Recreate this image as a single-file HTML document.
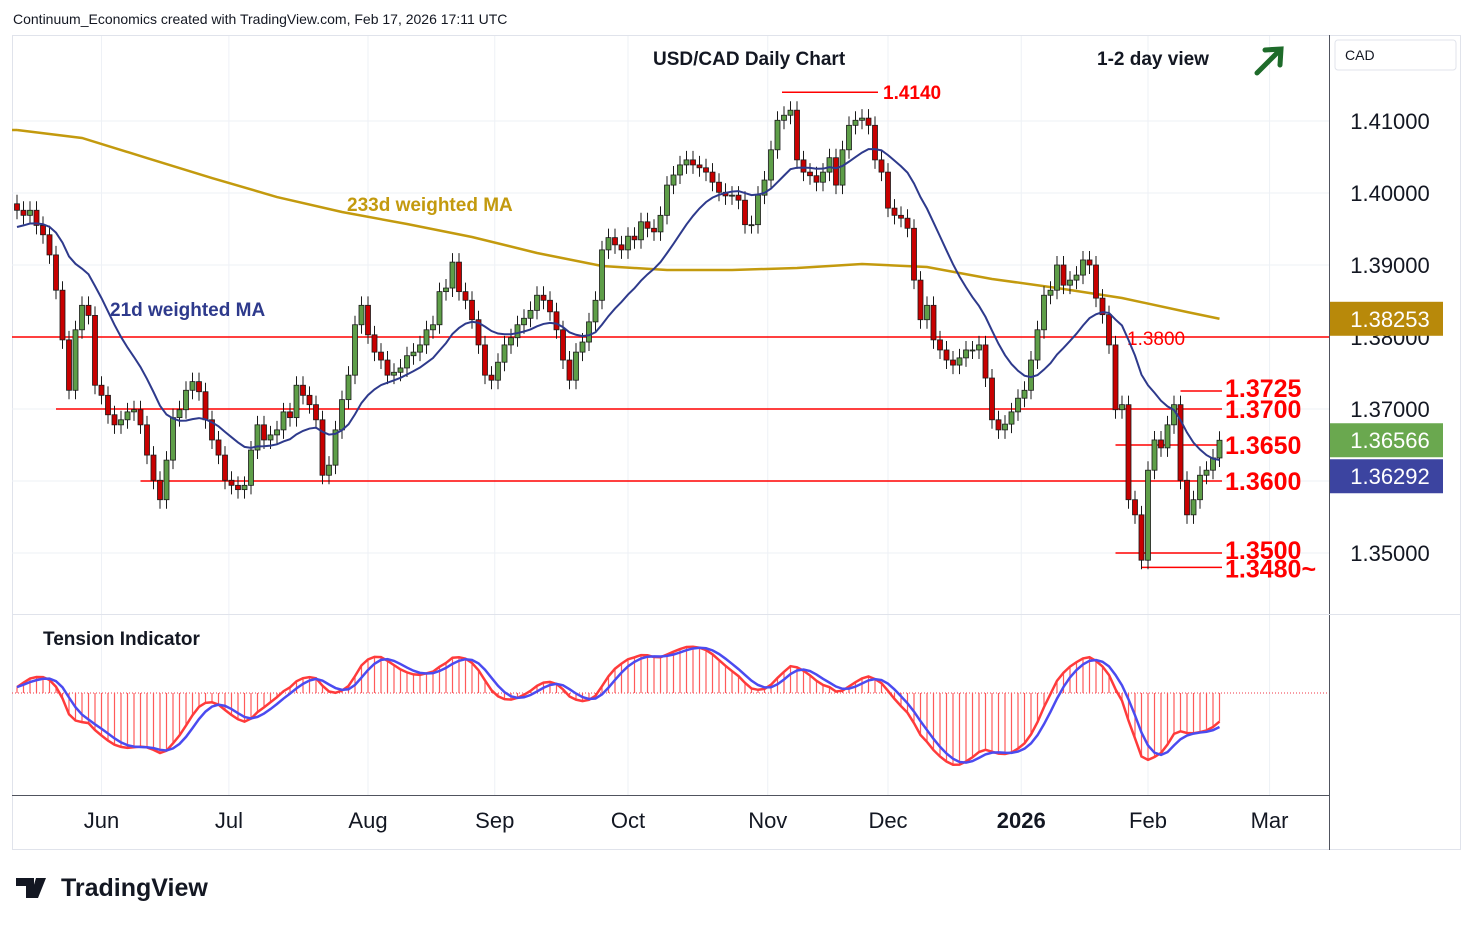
<!DOCTYPE html>
<html><head><meta charset="utf-8"><style>
body{margin:0;background:#fff;width:1474px;height:925px;overflow:hidden;font-family:"Liberation Sans",sans-serif}
svg text{font-family:"Liberation Sans",sans-serif}
</style></head><body>
<svg id="chart" width="1474" height="925" xmlns="http://www.w3.org/2000/svg">
<text x="13" y="24" font-size="14" fill="#131722">Continuum_Economics created with TradingView.com, Feb 17, 2026 17:11 UTC</text>
<rect x="12.5" y="35.5" width="1448" height="814" fill="none" stroke="#e0e3eb"/>
<g id="grid"></g>
<g id="ma233"></g>
<g id="hlines"></g>
<g id="candles"></g>
<g id="ma21"></g>
<g id="tension"></g>
<line x1="1329.5" y1="35" x2="1329.5" y2="850" stroke="#50535e"/>
<line x1="12" y1="614.5" x2="1461" y2="614.5" stroke="#e0e3eb"/>
<line x1="12" y1="795.5" x2="1329" y2="795.5" stroke="#50535e"/>
<g id="yaxis"></g>
<g id="xaxis"></g>
<rect x="1335" y="40" width="121" height="30" rx="3" fill="#fff" stroke="#e0e3eb"/>
<text x="1345" y="60" font-size="14" fill="#131722">CAD</text>
<text x="653" y="65" font-size="19" font-weight="bold" fill="#131722">USD/CAD Daily Chart</text>
<text x="1097" y="65" font-size="19" font-weight="bold" fill="#131722">1-2 day view</text>
<g stroke="#1e6b2a" stroke-width="5" fill="none" stroke-linecap="round"><line x1="1257" y1="73" x2="1280" y2="50"/><polyline points="1265,50 1281,49 1280,65"/></g>
<text x="347" y="211" font-size="19" font-weight="bold" fill="#c39a0e">233d weighted MA</text>
<text x="110" y="316" font-size="19" font-weight="bold" fill="#2e3a8c">21d weighted MA</text>
<text x="43" y="645" font-size="19" font-weight="bold" fill="#131722">Tension Indicator</text>
<g><path d="M16 878h18v20h-8v-12h-10z M36 878h10l-8 20h-8z" fill="#131722"/><circle cx="31" cy="882" r="3" fill="#131722"/><text x="61" y="896" font-size="25" font-weight="bold" fill="#131722">TradingView</text></g>
</svg>
<script>
const closes=[1.3976,1.3969,1.3976,1.3955,1.3942,1.3914,1.3865,1.3796,1.3726,1.3810,1.3844,1.3830,1.3733,1.3719,1.3692,1.3678,1.3685,1.3696,1.3699,1.3678,
1.3636,1.3601,1.3574,1.3629,1.3688,1.3699,1.3726,1.3738,1.3724,1.3685,1.3657,1.3636,1.3601,1.3594,1.3588,1.3594,1.3643,1.3678,1.3657,1.3664,
1.3671,1.3696,1.3688,1.3733,1.3719,1.3706,1.3685,1.3608,1.3622,1.3671,1.3713,1.3747,1.3817,1.3844,1.3803,1.3779,1.3768,1.3747,1.3751,1.3757,
1.3774,1.3779,1.3789,1.3810,1.3817,1.3863,1.3868,1.3904,1.3863,1.3851,1.3824,1.3789,1.3747,1.3740,1.3765,1.3789,1.3799,1.3817,1.3826,1.3837,
1.3858,1.3851,1.3835,1.3810,1.3768,1.3740,1.3779,1.3793,1.3821,1.3851,1.3921,1.3938,1.3928,1.3921,1.3940,1.3935,1.3960,1.3951,1.3946,1.3969,
1.4011,1.4025,1.4039,1.4046,1.4039,1.4035,1.4029,1.4015,1.4001,1.3996,1.3997,1.3990,1.3956,1.3956,1.3997,1.4018,1.4060,1.4101,1.4108,1.4115,
1.4046,1.4029,1.4024,1.4015,1.4029,1.4049,1.4011,1.4060,1.4094,1.4101,1.4104,1.4094,1.4046,1.4029,1.3979,1.3969,1.3965,1.3951,1.3879,1.3824,
1.3844,1.3796,1.3782,1.3768,1.3761,1.3771,1.3782,1.3782,1.3789,1.3743,1.3685,1.3671,1.3679,1.3696,1.3715,1.3726,1.3768,1.3810,1.3858,1.3865,
1.3900,1.3872,1.3879,1.3886,1.3907,1.3900,1.3854,1.3831,1.3789,1.3699,1.3706,1.3574,1.3553,1.3490,1.3615,1.3657,1.3646,1.3678,1.3706,1.3601,
1.3553,1.3574,1.3608,1.3615,1.3632,1.36566];
const firstOpen=1.3985;
const ma233Idx=[0,10,20,30,40,50,60,70,80,90,100,110,120,130,140,150,160,170,180,185];
const ma233Val=[1.40875,1.40764,1.40486,1.40208,1.39944,1.39736,1.39569,1.39389,1.39167,1.38986,1.38931,1.38931,1.38958,1.39014,1.38972,1.38806,1.38681,1.38542,1.38347,1.38253];
const priceTicks=[1.41,1.40,1.39,1.38,1.37,1.35];
const monthLabels=["Jun","Jul","Aug","Sep","Oct","Nov","Dec","2026","Feb","Mar"];
const monthBarIdx=[13,32.6,54,73.5,94,115.5,134,154.5,174,192.7];
const levelVals=[1.3800,1.3700,1.3600,1.3650,1.3725,1.3500,1.3480];
const levelText=["1.3800","1.3700","1.3600","1.3650","1.3725","1.3500","1.3480~"];
const levelFrom=[0,6,19,169,179,169,173];

const NS="http://www.w3.org/2000/svg";
const X0=17,STEP=6.5;
const xs=i=>X0+i*STEP;
const ys=p=>121+(1.41-p)*7200;
const ty=v=>693-v*4700;
function mk(tag,attrs,parent){const e=document.createElementNS(NS,tag);for(const k in attrs)e.setAttribute(k,attrs[k]);parent.appendChild(e);return e;}
const G=id=>document.getElementById(id);

monthBarIdx.forEach(b=>{const l=mk('line',{x1:xs(b),x2:xs(b),y1:36,y2:795,stroke:'#eef1f6'},G('grid'));

});
[1.41,1.40,1.39,1.38,1.37,1.36,1.35].forEach(p=>{const l=mk('line',{x1:12,x2:1329,y1:ys(p),y2:ys(p),stroke:'#eef1f6'},G('grid'));

});
const zl=mk('line',{x1:12,x2:1329,y1:693,y2:693,stroke:'#f23645','stroke-dasharray':'1,2'},G('grid'));



const ma233=mk('polyline',{points:ma233Idx.map((b,k)=>xs(b)+','+ys(ma233Val[k])).join(' '),fill:'none',stroke:'#c39a0e','stroke-width':2.5},G('ma233'));


const m0=mk('line',{x1:12,x2:xs(0),y1:ys(ma233Val[0]),y2:ys(ma233Val[0]),stroke:'#c39a0e','stroke-width':2.5},G('ma233'));



const labelDy=[8,9,9,9,6,6,10];
levelVals.forEach((v,k)=>{
 const x1=k===0?12:xs(levelFrom[k]);
 const l=mk('line',{x1:x1,x2:k===0?1329:1222,y1:ys(v),y2:ys(v),stroke:'#ff0000','stroke-width':1.5},G('hlines'));
 
 
 const t=mk('text',{x:k===0?1127:1225,y:ys(v)+labelDy[k],'font-size':k===0?19:25,fill:'#ff0000','font-weight':k===0?'normal':'bold'},G('hlines'));
 t.textContent=levelText[k];
 
 
});
const hl=mk('line',{x1:782,x2:878,y1:ys(1.4140),y2:ys(1.4140),stroke:'#ff0000','stroke-width':1.5},G('hlines'));


const ht=mk('text',{x:883,y:ys(1.4140)+7,'font-size':19,fill:'#ff0000','font-weight':'bold'},G('hlines'));ht.textContent='1.4140';



closes.forEach((c,i)=>{
 const o=i===0?firstOpen:closes[i-1];
 const up=c>=o;const x=xs(i);
 const top=ys(Math.max(o,c)),bot=ys(Math.min(o,c));
 const g=mk('g',{},G('candles'));
 
 
 mk('line',{x1:x,x2:x,y1:top-9,y2:bot+9,stroke:'#1a1a1a','stroke-width':1},g);
 mk('rect',{x:x-2.5,y:top,width:5,height:Math.max(1,bot-top),fill:up?'#5e9e48':'#c80000',stroke:'#1a1a1a','stroke-width':0.8},g);
});

function wma(arr,n,i){let s=0,w=0;for(let k=0;k<n&&i-k>=0;k++){const wt=n-k;s+=arr[i-k]*wt;w+=wt;}return s/w;}
const pre=[1.3880,1.3900,1.3920,1.3940,1.3950,1.3960,1.3965,1.3970,1.3975,1.3980];
const ext=pre.concat(closes);
const ma21=closes.map((c,i)=>wma(ext,21,i+pre.length));
const p21=mk('polyline',{points:ma21.map((v,i)=>xs(i)+','+ys(v)).join(' '),fill:'none',stroke:'#2e3a8c','stroke-width':2},G('ma21'));



const ext2=Array(30).fill(1.3900).concat(closes);
const red=closes.map((c,i)=>wma(ext2,8,i+30)-wma(ext2,34,i+30));
const blue=red.map((v,i)=>wma(red,5,i));
red.forEach((v,i)=>{const l=mk('line',{x1:xs(i),x2:xs(i),y1:693,y2:ty(v),stroke:'#ff5a5a','stroke-width':1.2},G('tension'));

});
const rl=mk('polyline',{points:red.map((v,i)=>xs(i)+','+ty(v)).join(' '),fill:'none',stroke:'#ff3b3b','stroke-width':2.5},G('tension'));


const bl=mk('polyline',{points:blue.map((v,i)=>xs(i)+','+ty(v)).join(' '),fill:'none',stroke:'#4b4bf0','stroke-width':2.5},G('tension'));



priceTicks.forEach(p=>{const t=mk('text',{x:1390,y:ys(p)+8,'font-size':22,fill:'#131722','text-anchor':'middle'},G('yaxis'));t.textContent=p.toFixed(5);

});
const badges=[[ma233Val[ma233Val.length-1],'#b8890a'],[closes[closes.length-1],'#6aa84f'],[ma21[ma21.length-1],'#3c44a0']];
let lastY=-100;
badges.forEach(([v,col])=>{let y=ys(v);
 if(y<lastY+36)y=lastY+36;
 lastY=y;
 const r=mk('rect',{x:1330,y:y-17,width:113,height:34,fill:col},G('yaxis'));
 
 
 const t=mk('text',{x:1390,y:y+8,'font-size':22,fill:'#fff','text-anchor':'middle'},G('yaxis'));t.textContent=v.toFixed(5);
 
 });
monthLabels.forEach((m,k)=>{const t=mk('text',{x:xs(monthBarIdx[k]),y:828,'font-size':22,fill:'#131722','text-anchor':'middle','font-weight':m==='2026'?'bold':'normal'},G('xaxis'));t.textContent=m;

});
</script>
</body></html>
